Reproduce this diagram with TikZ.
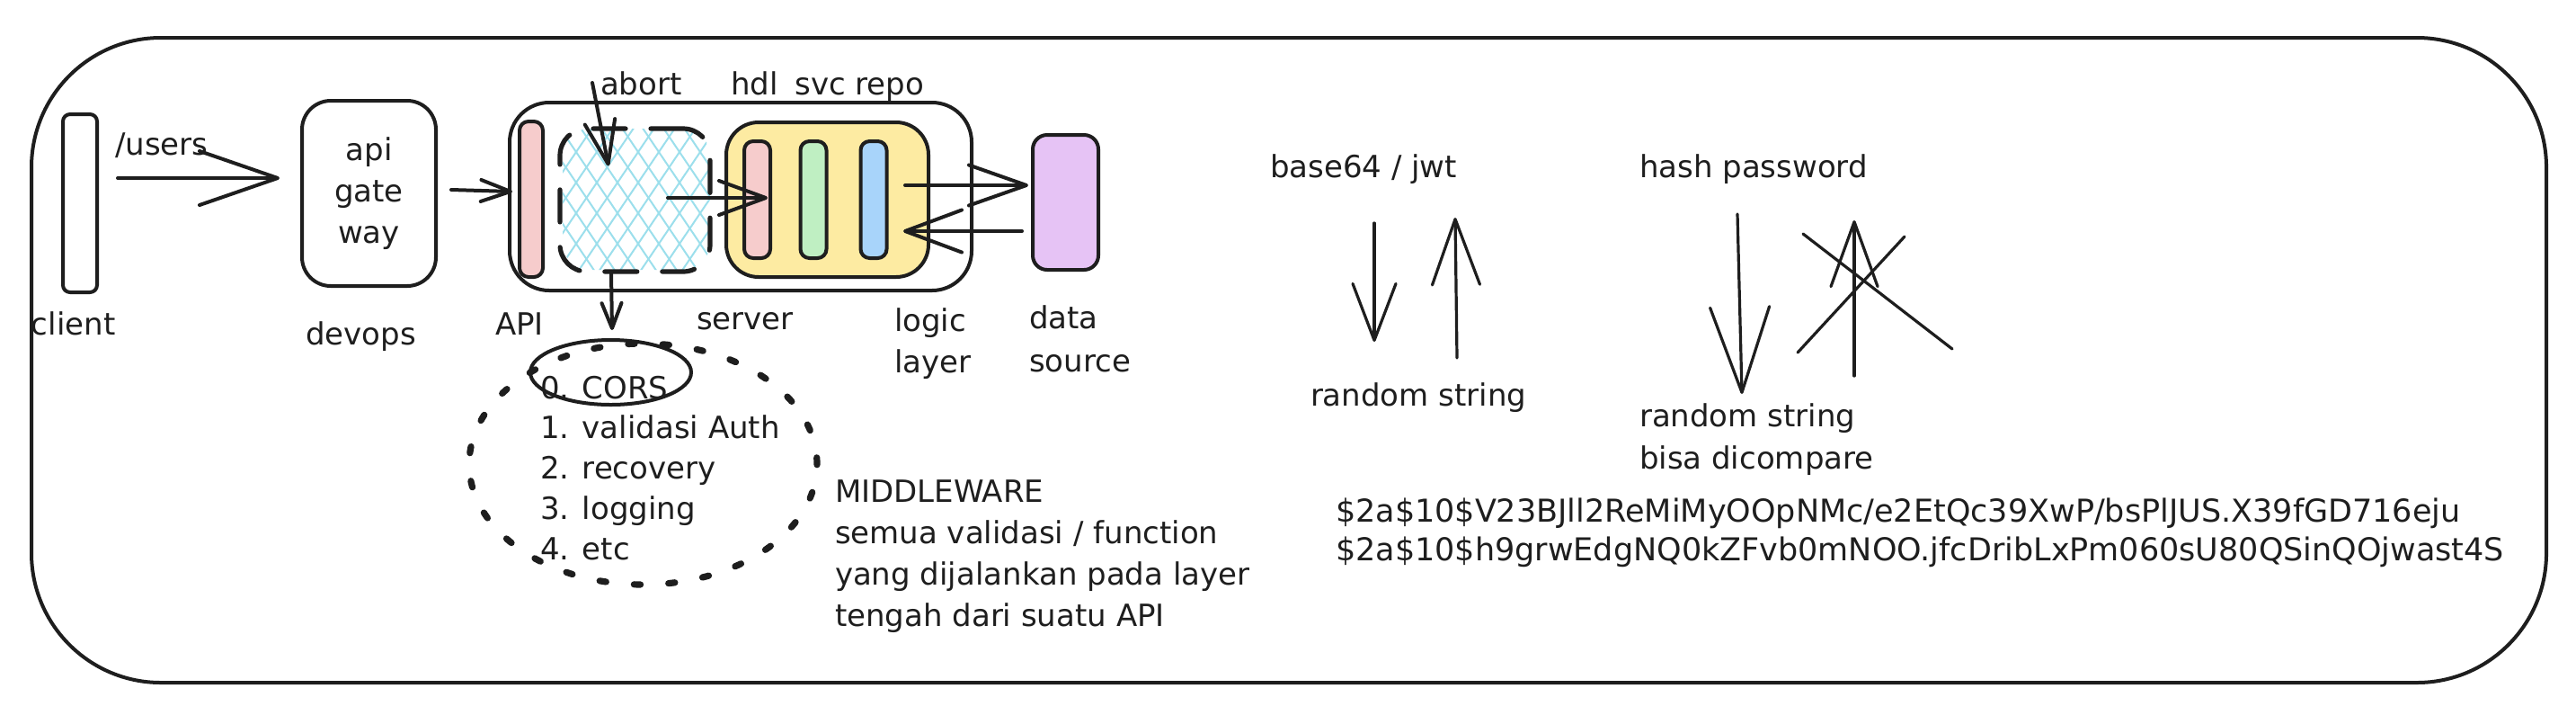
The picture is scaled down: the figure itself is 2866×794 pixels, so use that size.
\documentclass[tikz,border=0pt]{standalone}
\usepackage{fontspec}
\setmainfont{DejaVu Sans}
\usetikzlibrary{arrows.meta,calc,shapes.geometric}
\definecolor{ink}{HTML}{1E1E1E}
\definecolor{pinkf}{HTML}{F6CCCC}
\definecolor{greenf}{HTML}{BFEFC2}
\definecolor{bluef}{HTML}{A8D4FA}
\definecolor{yellowf}{HTML}{FDEBA2}
\definecolor{purplef}{HTML}{E6C3F5}
\definecolor{hatchc}{HTML}{9CDFEC}
\newcommand\lblfont{\fontsize{8.5}{11.5}\selectfont}
\newcommand\hashfont{\fontsize{8.75}{10.7}\selectfont}
\begin{document}
\begin{tikzpicture}[x=0.25pt,y=-0.25pt,
  ln/.style={draw=ink,line width=1pt,line cap=round,line join=round},
  thinln/.style={draw=ink,line width=0.8pt,line cap=round,line join=round},
  boxnode/.style={ln,inner sep=0,outer sep=0},
  barnode/.style={ln,inner sep=0,outer sep=0,rounded corners=2.5pt,minimum width=7.25pt,minimum height=32.5pt},
  lbl/.style={font=\lblfont,text=ink,inner sep=0,outer sep=0,anchor=base west},
  hashlbl/.style={font=\hashfont,text=ink,inner sep=0,outer sep=0,anchor=base west},
  harr/.style 2 args={ln,-{Straight Barb[length=#1,width=#2,round]}},
  tarr/.style 2 args={thinln,-{Straight Barb[length=#1,width=#2,round]}},
  hatchln/.style={draw=hatchc,line width=0.5pt}
]
\useasboundingbox (0,0) rectangle (2866,794);
\fill[white] (0,0) rectangle (2866,794);

% outer frame
\draw[ln,rounded corners=36pt] (35,42) rectangle (2833,759);

% client and gateway
\node[boxnode,rounded corners=2pt,fill=white,minimum width=9.5pt,minimum height=49.5pt] (client) at (89,226) {};
\node[boxnode,rounded corners=8pt,minimum width=37.25pt,minimum height=51.5pt,font=\lblfont,text=ink,align=center] (gw) at (410.5,215) {api\\gate\\way};

% server container
\node[boxnode,rounded corners=11pt,minimum width=128.5pt,minimum height=52.25pt] (server) at (824,218.5) {};
\node[barnode,fill=pinkf,minimum width=6.5pt,minimum height=43.25pt] (api) at (591,221.5) {};

% middleware hatch + dashed box
\begin{scope}
  \clip[rounded corners=7.5pt] (626,143) rectangle (790,300);
  \foreach \i in {480,503,...,940} {
    \draw[hatchln] (\i,305) -- ++(115,-170);
    \draw[hatchln] (\i,305) -- ++(-115,-170);
  }
\end{scope}
\node[draw=ink,line width=1.3pt,line cap=round,dash pattern=on 9pt off 7pt,rounded corners=7.5pt,inner sep=0,minimum width=41.75pt,minimum height=39.75pt] (mw) at (706.5,222.5) {};

% logic layer
\node[boxnode,rounded corners=9pt,fill=yellowf,minimum width=56.25pt,minimum height=43pt] (logic) at (920.5,222) {};
\node[barnode,fill=pinkf] (hdl) at (842.5,222) {};
\node[barnode,fill=greenf] (svc) at (905,222) {};
\node[barnode,fill=bluef] (repo) at (972,222) {};

% data source
\node[boxnode,rounded corners=4pt,fill=purplef,minimum width=18.25pt,minimum height=37.5pt] (data) at (1185.5,225) {};

% middleware list ellipses
\node[ellipse,boxnode,minimum width=44.75pt,minimum height=18pt] (cors) at (679.5,414) {};
\node[ellipse,draw=ink,line width=1.8pt,line cap=round,dash pattern=on 1.8pt off 7.8pt,inner sep=0,minimum width=96.75pt,minimum height=67pt] (mwlist) at (715.5,516) {};

% labels
\node[lbl] (tusers) at (128,172) {/users};
\node[lbl] (tclient) at (35,372) {client};
\node[lbl] (tdevops) at (340,383) {devops};
\node[lbl] (tapi) at (551,372) {API};
\node[lbl] (tserver) at (775,366) {server};
\node[lbl] (tlogic) at (995,368) {logic};
\node[lbl] (tlayer) at (995,414) {layer};
\node[lbl] (tdata) at (1145,365) {data};
\node[lbl] (tsource) at (1145,413) {source};
\node[lbl] (tabort) at (668,105) {abort};
\node[lbl] (thsr) at (813,105) {hdl\hspace{0.55em}svc repo};

\node[lbl] (l0) at (601,443) {0. CORS};
\node[lbl] (l1) at (601,487) {1. validasi Auth};
\node[lbl] (l2) at (601,532) {2. recovery};
\node[lbl] (l3) at (601,577) {3. logging};
\node[lbl] (l4) at (601,622) {4. etc};

\node[lbl] (m0) at (929,558) {MIDDLEWARE};
\node[lbl] (m1) at (929,604) {semua validasi / function};
\node[lbl] (m2) at (929,650) {yang dijalankan pada layer};
\node[lbl] (m3) at (929,696) {tengah dari suatu API};

\node[lbl] (tb64) at (1413,197) {base64 / jwt};
\node[lbl] (thash) at (1824,197) {hash password};
\node[lbl] (trs1) at (1458,451) {random string};
\node[lbl] (trs2) at (1824,474) {random string};
\node[lbl] (tbisa) at (1824,521) {bisa dicompare};
\node[hashlbl] (h1) at (1486,580) {\$2a\$10\$V23BJll2ReMiMyOOpNMc/e2EtQc39XwP/bsPlJUS.X39fGD716eju};
\node[hashlbl] (h2) at (1486,623) {\$2a\$10\$h9grwEdgNQ0kZFvb0mNOO.jfcDribLxPm060sU80QSinQOjwast4S};

% left arrows
\draw[harr={21.75pt}{15pt}] ($(client.east)+(23,-28)$) -- ($(gw.west)+(-25,-17)$);
\draw[harr={8.25pt}{6pt}] ($(gw.east)+(17,-4)$) -- ($(api.west)+(-8,-8.5)$);
\coordinate (abortS) at (659,92);
\draw[harr={12pt}{8.5pt}] (abortS) -- ($(mw.north)+(-29.5,44)$);
\draw[harr={13pt}{9.5pt}] ($(mw.center)+(36.5,-2.5)$) -- ($(hdl.east)+(-3,-2)$);
\draw[harr={16pt}{11.25pt}] ($(repo.center)+(35,-16)$) -- ($(data.west)+(-5,-19)$);
\draw[harr={15.75pt}{11.75pt}] ($(data.west)+(-12,32)$) -- ($(repo.center)+(33,35)$);
\draw[harr={7pt}{5.5pt}] ($(mw.south)+(-26.5,0)$) -- ($(cors.north)+(1.5,-11)$);

% right arrows
\coordinate (a8s) at (1529,248); \coordinate (a8e) at (1529,380);
\coordinate (a9s) at (1621,398); \coordinate (a9e) at (1619,242);
\coordinate (a10s) at (1933,238); \coordinate (a10e) at (1938,438);
\coordinate (a11s) at (2063,418); \coordinate (a11e) at (2063,245);
\draw[tarr={15.75pt}{12pt}] (a8s) -- (a8e);
\draw[tarr={18.25pt}{13.25pt}] (a9s) -- (a9e);
\draw[tarr={23.75pt}{16.5pt}] (a10s) -- (a10e);
\draw[tarr={18pt}{13pt}] (a11s) -- (a11e);
\coordinate (x1a) at (2006,260); \coordinate (x1b) at (2172,388);
\coordinate (x2a) at (2119,263); \coordinate (x2b) at (2000,392);
\draw[thinln] (x1a) -- (x1b);
\draw[thinln] (x2a) -- (x2b);
\end{tikzpicture}
\end{document}
